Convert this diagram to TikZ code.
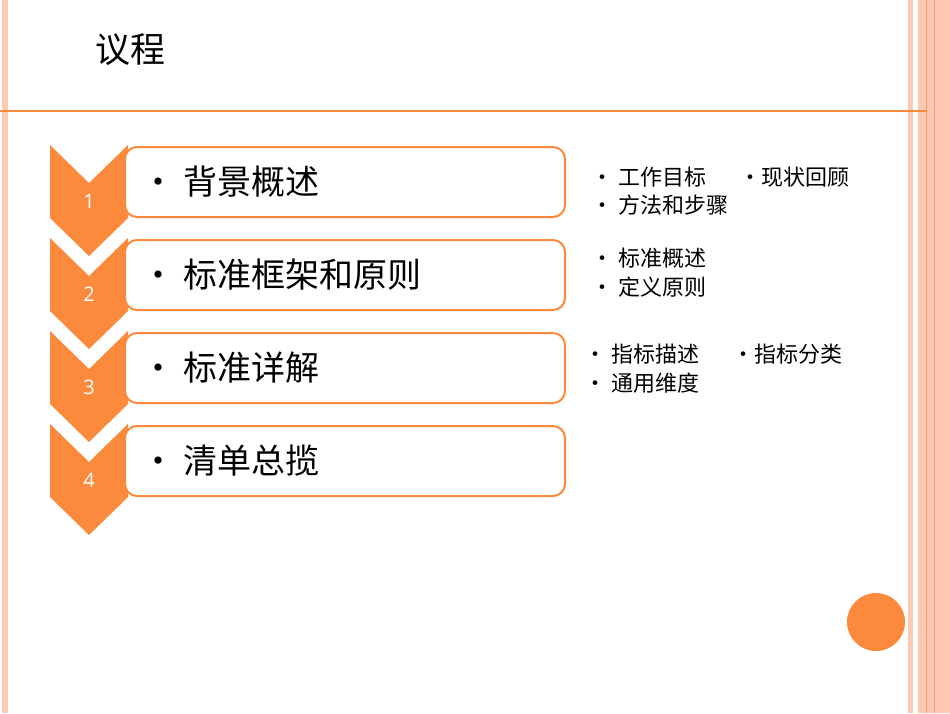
\documentclass[tikz,border=0pt]{standalone}
\usepackage{fontspec}
\setmainfont{Noto Sans CJK SC}
\newfontfamily\numfont{Open Sans}
\definecolor{org}{HTML}{FB8A3C}
\definecolor{salmon}{HTML}{FDC8B4}
\definecolor{lineorg}{HTML}{F5A06A}
\begin{document}
\begin{tikzpicture}[x=1pt,y=-1pt,
  chev/.style={fill=org,draw=none},
  itembox/.style={draw=org,line width=2pt,rounded corners=12pt,fill=white},
  maintext/.style={anchor=west,font=\fontsize{34}{38}\selectfont},
  numtext/.style={text=white,font=\numfont\fontsize{20}{22}\selectfont},
  subtext/.style={anchor=west,font=\fontsize{22}{25}\selectfont}]
\useasboundingbox (0,0) rectangle (950,713);
\fill[white] (0,0) rectangle (950,713);
% borders
\fill[salmon] (2,0) rectangle (8,713);
\fill[salmon] (908,0) rectangle (913,713);
\fill[salmon] (918,0) rectangle (950,713);
\draw[lineorg,line width=1pt] (926,0) -- (926,713);
\draw[lineorg,line width=1pt] (934,0) -- (934,713);
\draw[org,line width=1.3pt] (0,111) -- (927,111);
\node[anchor=west,font=\fontsize{35}{38}\selectfont] (title) at (92,50) {议程};
% rows
\foreach \i/\t [count=\k] in {0/背景概述,1/标准框架和原则,2/标准详解,3/清单总揽}{
  \pgfmathsetmacro{\dy}{93*\i}
  \begin{scope}[yshift={-\dy pt}]
    \fill[chev] (50,145) -- (89,183) -- (128,145) -- (128,218) -- (89,256) -- (50,218) -- cycle;
    \draw[itembox] (125,147) rectangle (565,217);
    \node[maintext] (m\k) at (138,182) {• \t};
    \node[numtext] (n\k) at (89,201) {\k};
  \end{scope}
}
\node[subtext] (s1) at (588,177) {• 工作目标};
\node[subtext] (s2) at (736,177) {•现状回顾};
\node[subtext] (s3) at (588,205) {• 方法和步骤};
\node[subtext] (s4) at (588,258) {• 标准概述};
\node[subtext] (s5) at (588,287) {• 定义原则};
\node[subtext] (s6) at (581,354) {• 指标描述};
\node[subtext] (s7) at (729,354) {•指标分类};
\node[subtext] (s8) at (581,383) {• 通用维度};
\fill[org] (876,622) circle (29);
\end{tikzpicture}
\end{document}
